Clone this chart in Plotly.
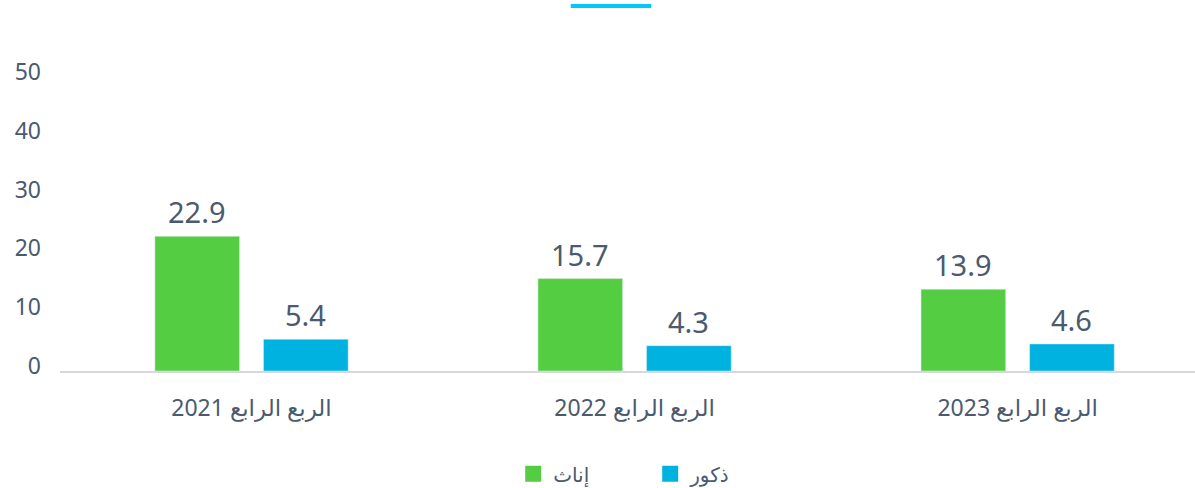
import plotly.graph_objects as go

categories = ["الربع الرابع 2021", "الربع الرابع 2022", "الربع الرابع 2023"]
female = [22.9, 15.7, 13.9]
male = [5.4, 4.3, 4.6]
female_name = "إناث"
male_name = "ذكور"
y_ticks = [0, 10, 20, 30, 40, 50]

GREEN = "#55cd42"
BLUE = "#00b2e0"
TEXT = "#4b5a6e"
FONT = "Noto Sans, DejaVu Sans, sans-serif"
BARGAP = 0.433

fig = go.Figure()
fig.add_trace(go.Bar(x=categories, y=female, name=female_name, marker_color=GREEN,
                     showlegend=False, legendgroup="f"))
fig.add_trace(go.Bar(x=categories, y=male, name=male_name, marker_color=BLUE,
                     showlegend=False, legendgroup="m"))
# legend entries with larger square swatches
for name, color, grp in ((female_name, GREEN, "f"), (male_name, BLUE, "m")):
    fig.add_trace(go.Scatter(x=[None], y=[None], mode="markers", name=name,
                             legendgroup=grp,
                             marker=dict(symbol="square", size=16, color=color)))

half_slot = (1 - BARGAP) / 4
for i, (f, m) in enumerate(zip(female, male)):
    for dx, v in ((-half_slot, f), (half_slot, m)):
        fig.add_annotation(x=i + dx, y=v, text=f"{v}", showarrow=False,
                           yanchor="bottom", yshift=3,
                           font=dict(size=29, color=TEXT, family=FONT))

fig.add_shape(type="line", xref="paper", yref="paper",
              x0=0.450, x1=0.521, y0=1.193, y1=1.193,
              line=dict(color="#00c8f8", width=4))

fig.update_layout(
    width=1195, height=488,
    margin=dict(l=60, r=0, t=65, b=117, autoexpand=False),
    paper_bgcolor="white", plot_bgcolor="white",
    barmode="group", bargap=BARGAP, bargroupgap=0.22,
    font=dict(family=FONT, color=TEXT),
    showlegend=True,
    legend=dict(orientation="h", x=0.52, xanchor="center",
                yref="container", y=0.029, yanchor="middle",
                font=dict(size=20, color=TEXT), entrywidth=92, traceorder="normal",
                itemsizing="trace"),
    xaxis=dict(type="category", range=[-0.5, 2.463], showgrid=False, automargin=False,
               showline=True, linecolor="#d5d9de", linewidth=2, ticks="",
               tickfont=dict(size=23, color=TEXT), ticklabelstandoff=15),
    yaxis=dict(range=[0, 52], tickvals=y_ticks, showgrid=False, zeroline=False,
               automargin=False, showline=False, ticks="",
               tickfont=dict(size=23, color=TEXT),
               ticklabelstandoff=18, ticklabelshift=-5),
)

fig.write_html("out.html", config={"displayModeBar": False},
               post_script="document.body.style.margin='0';")
